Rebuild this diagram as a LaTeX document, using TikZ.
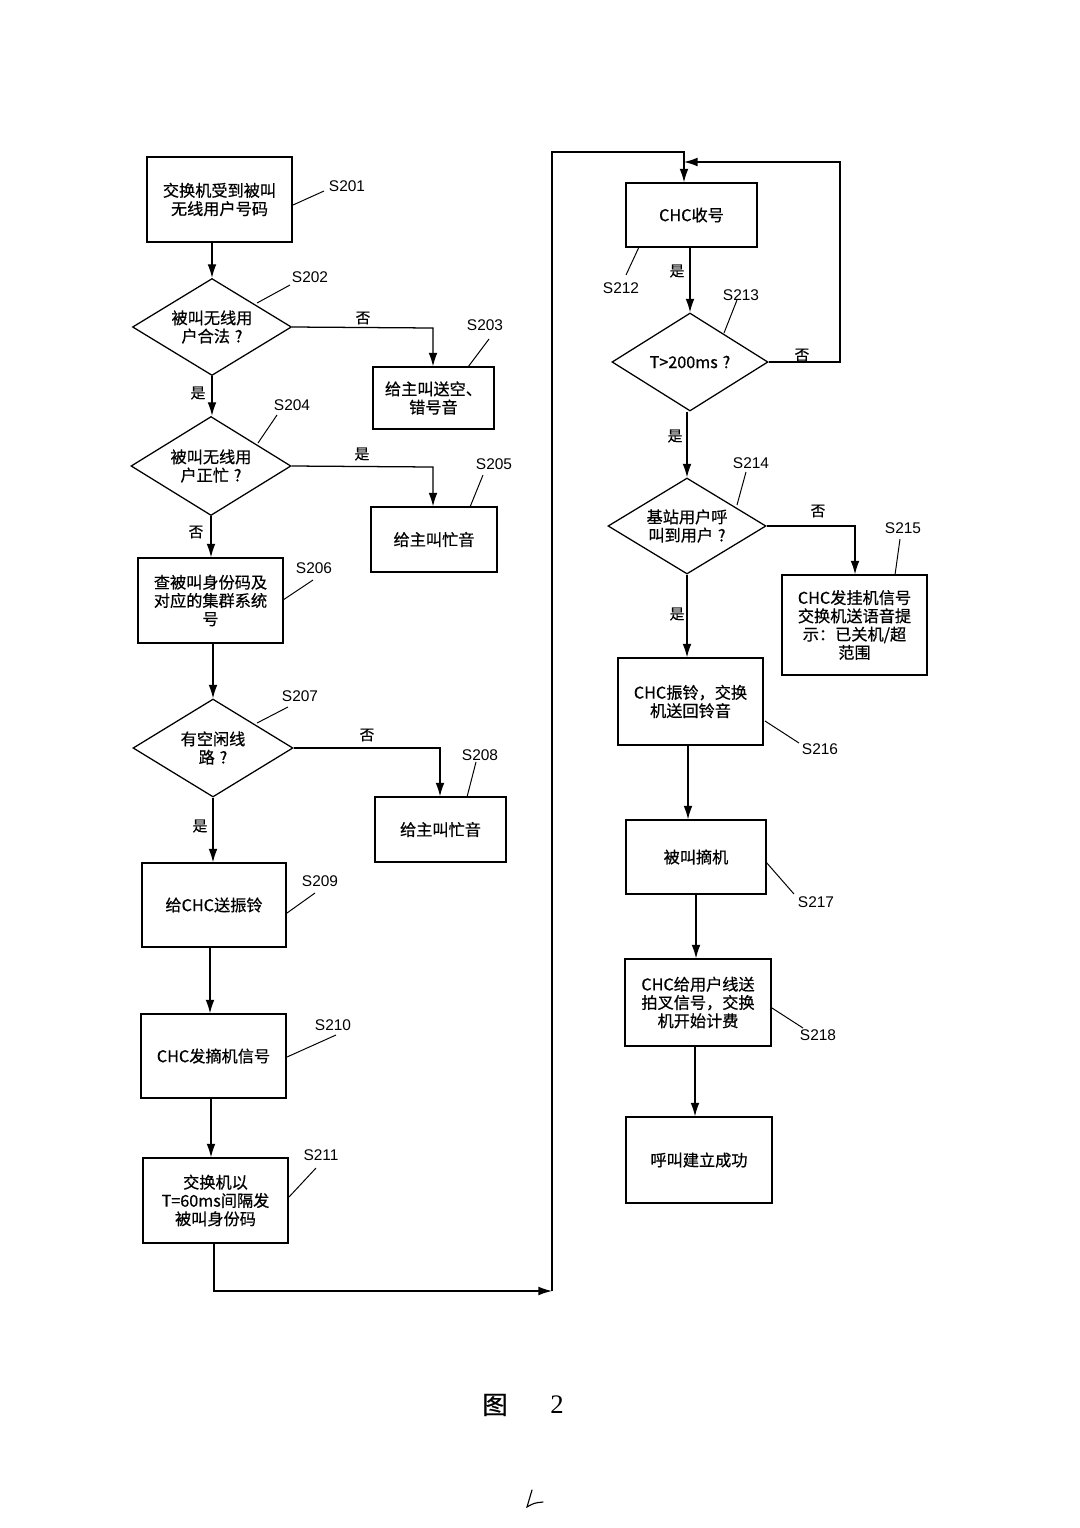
\documentclass[tikz,border=0pt]{standalone}
\usepackage{fontspec}
\setmainfont{Noto Sans CJK SC}[FakeBold=0.6]
\newfontfamily\lab{Liberation Sans}
\newfontfamily\serifn{Liberation Serif}
\usetikzlibrary{arrows.meta,shapes.geometric}
\def\pu{0.025cm}
\newcommand{\qm}{\hspace{0.3em}?}
\begin{document}
\begin{tikzpicture}[x=0.025cm,y=-0.025cm, line width=0.9pt,
  box/.style 2 args={draw, rectangle, minimum width={#1*\pu}, minimum height={#2*\pu}, inner sep=0pt, align=center, font=\fontsize{11.5}{13}\selectfont},
  dia/.style 2 args={draw, diamond, aspect=1.6, minimum width={#1*\pu}, minimum height={#2*\pu}, inner sep=0pt, align=center, font=\fontsize{11.5}{13}\selectfont},
  arr/.style={-{Latex[length=3.4mm,width=2.2mm]}},
  lbl/.style={font=\lab\fontsize{11}{12}\selectfont, inner sep=0pt},
  yn/.style={font=\fontsize{10.5}{12}\selectfont, inner sep=0pt},
  lead/.style={line width=0.7pt}]
\useasboundingbox (0,0) rectangle (1080,1528);

% ---------- left column ----------
\node[box={145}{85}] (s201) at (219.5,199.5) {交换机受到被叫\\无线用户号码};
\node[dia={159}{97}] (s202) at (212,327) {被叫无线用\\户合法\qm};
\node[box={121}{62}] (s203) at (433.5,398) {给主叫送空、\\错号音};
\node[dia={160}{99}] (s204) at (211,466) {被叫无线用\\户正忙\qm};
\node[box={126}{65}] (s205) at (434,539.5) {给主叫忙音};
\node[box={145}{85}] (s206) at (210.5,600.5) {查被叫身份码及\\对应的集群系统\\号};
\node[dia={160}{98}] (s207) at (213,748) {有空闲线\\路\qm};
\node[box={131}{65}] (s208) at (440.5,829.5) {给主叫忙音};
\node[box={144}{84}] (s209) at (214,905) {给CHC送振铃};
\node[box={145}{84}] (s210) at (213.5,1056) {CHC发摘机信号};
\node[box={145}{85}] (s211) at (215.5,1200.5) {交换机以\\T=60ms间隔发\\被叫身份码};

% ---------- right column ----------
\node[box={131}{64}] (s212) at (691.5,215) {CHC收号};
\node[dia={156}{98}] (s213) at (690,362) {T>200ms\qm};
\node[dia={158}{96}] (s214) at (687,526) {基站用户呼\\叫到用户\qm};
\node[box={145}{100}] (s215) at (854.5,625) {CHC发挂机信号\\交换机送语音提\\示：已关机/超\\范围};
\node[box={145}{87}] (s216) at (690.5,701.5) {CHC振铃，交换\\机送回铃音};
\node[box={140}{74}] (s217) at (696,857) {被叫摘机};
\node[box={146}{87}] (s218) at (698,1002.5) {CHC给用户线送\\拍叉信号，交换\\机开始计费};
\node[box={146}{86}] (s219) at (699,1160) {呼叫建立成功};

% ---------- helper coordinates ----------
\coordinate (m1) at (552,1291);
\coordinate (m2) at (552,152);
\coordinate (jn) at (684,162);
\coordinate (loopR) at (840,162);
\coordinate (b202) at (433,328);
\coordinate (b204) at (433,467);
\coordinate (b207) at (440,748);
\coordinate (b214) at (855,526);

% ---------- connectors ----------
\draw[arr] (s201.south -| s202.north) -- (s202.north);
\draw[arr] (s202.east) -- (b202) -- (b202 |- s203.north);
\draw[arr] (s202.south) -- (s202.south |- s204.north);
\draw[arr] (s204.east) -- (b204) -- (b204 |- s205.north);
\draw[arr] (s204.south) -- (s204.south |- s206.north);
\draw[arr] (s206.south -| s207.north) -- (s207.north);
\draw[arr] (s207.east) -- (b207) -- (b207 |- s208.north);
\draw[arr] (s207.south) -- (s207.south |- s209.north);
\draw[arr] (s209.south -| 210,0) -- (s210.north -| 210,0);
\draw[arr] (s210.south -| 211,0) -- (s211.north -| 211,0);
\draw[arr] (s211.south -| 214,0) |- (m1);
\draw[arr] (m1) -- (m2) -| (jn |- s212.north);
\draw[arr] (s213.east) -| (loopR) -- (jn);
\draw[arr] (s212.south -| s213.north) -- (s213.north);
\draw[arr] (s213.south -| s214.north) -- (s214.north);
\draw[arr] (s214.east) -- (b214) -- (b214 |- s215.north);
\draw[arr] (s214.south) -- (s214.south |- s216.north);
\draw[arr] (s216.south -| 688,0) -- (s217.north -| 688,0);
\draw[arr] (s217.south -| 696,0) -- (s218.north -| 696,0);
\draw[arr] (s218.south -| 695,0) -- (s219.north -| 695,0);

% ---------- branch labels ----------
\node[yn] (n202) at (363,318) {否};
\node[yn] (y202) at (198,393) {是};
\node[yn] (y204) at (362,454) {是};
\node[yn] (n204) at (196,532) {否};
\node[yn] (n207) at (367,735) {否};
\node[yn] (y207) at (200,826) {是};
\node[yn] (y212) at (677,271) {是};
\node[yn] (n213) at (802,355) {否};
\node[yn] (y213) at (675,436) {是};
\node[yn] (n214) at (818,511) {否};
\node[yn] (y214) at (677,614) {是};

% ---------- step labels ----------
\node[lbl] (l201) at (347,186) {S201};
\node[lbl] (l202) at (310,277) {S202};
\node[lbl] (l203) at (485,325) {S203};
\node[lbl] (l204) at (292,405) {S204};
\node[lbl] (l205) at (494,464) {S205};
\node[lbl] (l206) at (314,568) {S206};
\node[lbl] (l207) at (300,696) {S207};
\node[lbl] (l208) at (480,755) {S208};
\node[lbl] (l209) at (320,881) {S209};
\node[lbl] (l210) at (333,1025) {S210};
\node[lbl] (l211) at (321,1155) {S211};
\node[lbl] (l212) at (621,288) {S212};
\node[lbl] (l213) at (741,295) {S213};
\node[lbl] (l214) at (751,463) {S214};
\node[lbl] (l215) at (903,528) {S215};
\node[lbl] (l216) at (820,749) {S216};
\node[lbl] (l217) at (816,902) {S217};
\node[lbl] (l218) at (818,1035) {S218};

\draw[lead] (293,205) -- (324,191);
\draw[lead] (257,303) -- (290,285);
\draw[lead] (468,367) -- (489,339);
\draw[lead] (258,443) -- (277,415);
\draw[lead] (470,507) -- (483,475);
\draw[lead] (283,600) -- (313,580);
\draw[lead] (257,723) -- (288,707);
\draw[lead] (467,797) -- (476,762);
\draw[lead] (287,913) -- (315,893);
\draw[lead] (287,1057) -- (336,1035);
\draw[lead] (289,1197) -- (316,1168);
\draw[lead] (639,247) -- (626,275);
\draw[lead] (724,333) -- (737,300);
\draw[lead] (737,505) -- (746,472);
\draw[lead] (895,575) -- (900,539);
\draw[lead] (765,721) -- (799,743);
\draw[lead] (766,862) -- (794,894);
\draw[lead] (772,1008) -- (803,1028);

% ---------- caption ----------
\node[inner sep=0pt, font=\fontsize{18}{20}\selectfont] (cap1) at (495,1405) {图};
\node[inner sep=0pt, font=\serifn\fontsize{19}{20}\selectfont] (cap2) at (557,1405) {2};
\draw[line width=0.8pt, line cap=round] (532,1490) .. controls (530,1498) .. (527,1507) .. controls (534,1503) .. (543,1502);
\end{tikzpicture}
\end{document}
